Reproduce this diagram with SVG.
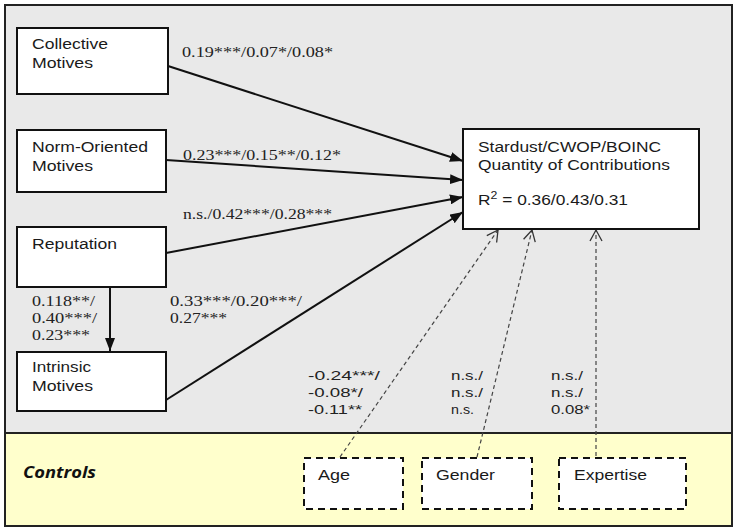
<svg xmlns="http://www.w3.org/2000/svg" width="740" height="532" viewBox="0 0 740 532">
<defs>
<style>
.node{fill:#fff;stroke:#111;stroke-width:2}
.ctl{fill:#fff;stroke:#111;stroke-width:2;stroke-dasharray:7 5}
.t{font-family:"Liberation Sans",Arial,sans-serif;font-size:15.5px;fill:#1a1a1a}
.s{font-family:"Liberation Serif","Times New Roman",serif;font-size:14.5px;fill:#222}
.c{font-family:"Liberation Sans",Arial,sans-serif;font-size:13.5px;fill:#222}
.e{stroke:#111;stroke-width:2;fill:none;marker-end:url(#ah)}
.d{stroke:#444;stroke-width:1.2;fill:none;stroke-dasharray:4 3;marker-end:url(#oh)}
</style>
<marker id="ah" markerUnits="userSpaceOnUse" markerWidth="13" markerHeight="10" refX="13" refY="5" orient="auto">
<path d="M0,0 L13,5 L0,10 z" fill="#111"/>
</marker>
<marker id="oh" markerUnits="userSpaceOnUse" markerWidth="14" markerHeight="14" refX="12" refY="7" orient="auto">
<path d="M1,1 L12,7 L1,13" fill="none" stroke="#333" stroke-width="1.3"/>
</marker>
</defs>
<g id="background">
<rect x="5" y="5" width="727" height="428" fill="#e9e9e9" stroke="#222" stroke-width="2"/>
<rect x="5" y="433" width="727" height="93" fill="#ffffcc" stroke="#222" stroke-width="2"/>
<text x="23" y="478" font-family="'Open Sans','Liberation Sans',sans-serif" font-size="16" font-weight="bold" font-style="italic" fill="#111" textLength="73" lengthAdjust="spacingAndGlyphs">Controls</text>
</g>
<g id="connectors">
<line class="e" x1="168" y1="66" x2="463" y2="161"/>
<line class="e" x1="166" y1="160" x2="463" y2="180"/>
<line class="e" x1="166" y1="253" x2="463" y2="197"/>
<line class="e" x1="166" y1="400" x2="463" y2="212"/>
<line class="e" x1="110" y1="287" x2="110" y2="351"/>
<line class="d" x1="340" y1="457" x2="498" y2="230"/>
<line class="d" x1="477" y1="457" x2="532" y2="230"/>
<line class="d" x1="596" y1="456" x2="596" y2="230"/>
<text class="s" x="182" y="57" textLength="151" lengthAdjust="spacingAndGlyphs">0.19***/0.07*/0.08*</text>
<text class="s" x="183" y="160" textLength="158" lengthAdjust="spacingAndGlyphs">0.23***/0.15**/0.12*</text>
<text class="s" x="183" y="219" textLength="149" lengthAdjust="spacingAndGlyphs">n.s./0.42***/0.28***</text>
<text class="s" x="32" y="306" textLength="63" lengthAdjust="spacingAndGlyphs">0.118**/</text>
<text class="s" x="32" y="323" textLength="65" lengthAdjust="spacingAndGlyphs">0.40***/</text>
<text class="s" x="32" y="340" textLength="58" lengthAdjust="spacingAndGlyphs">0.23***</text>
<text class="s" x="170" y="306" textLength="132" lengthAdjust="spacingAndGlyphs">0.33***/0.20***/</text>
<text class="s" x="170" y="323" textLength="57" lengthAdjust="spacingAndGlyphs">0.27***</text>
<text class="c" x="308" y="380" textLength="72" lengthAdjust="spacingAndGlyphs">-0.24***/</text>
<text class="c" x="308" y="397" textLength="55" lengthAdjust="spacingAndGlyphs">-0.08*/</text>
<text class="c" x="308" y="414" textLength="54" lengthAdjust="spacingAndGlyphs">-0.11**</text>
<text class="c" x="451" y="380" textLength="32" lengthAdjust="spacingAndGlyphs">n.s./</text>
<text class="c" x="451" y="397" textLength="32" lengthAdjust="spacingAndGlyphs">n.s./</text>
<text class="c" x="451" y="414" textLength="23" lengthAdjust="spacingAndGlyphs">n.s.</text>
<text class="c" x="551" y="380" textLength="32" lengthAdjust="spacingAndGlyphs">n.s./</text>
<text class="c" x="551" y="397" textLength="32" lengthAdjust="spacingAndGlyphs">n.s./</text>
<text class="c" x="551" y="414" textLength="39" lengthAdjust="spacingAndGlyphs">0.08*</text>
</g>
<g id="collective">
<rect class="node" x="17" y="28" width="151" height="66"/>
<text class="t" x="32" y="49" textLength="76" lengthAdjust="spacingAndGlyphs">Collective</text>
<text class="t" x="32" y="68" textLength="61" lengthAdjust="spacingAndGlyphs">Motives</text>
</g>
<g id="norm">
<rect class="node" x="17" y="130" width="149" height="62"/>
<text class="t" x="32" y="152" textLength="116" lengthAdjust="spacingAndGlyphs">Norm-Oriented</text>
<text class="t" x="32" y="171" textLength="61" lengthAdjust="spacingAndGlyphs">Motives</text>
</g>
<g id="reputation">
<rect class="node" x="17" y="227" width="149" height="60"/>
<text class="t" x="32" y="249" textLength="85" lengthAdjust="spacingAndGlyphs">Reputation</text>
</g>
<g id="intrinsic">
<rect class="node" x="17" y="352" width="149" height="59"/>
<text class="t" x="32" y="372" textLength="59" lengthAdjust="spacingAndGlyphs">Intrinsic</text>
<text class="t" x="32" y="391" textLength="61" lengthAdjust="spacingAndGlyphs">Motives</text>
</g>
<g id="outcome">
<rect class="node" x="463" y="129" width="236" height="100"/>
<text class="t" x="478" y="152" textLength="183" lengthAdjust="spacingAndGlyphs">Stardust/CWOP/BOINC</text>
<text class="t" x="478" y="170" textLength="192" lengthAdjust="spacingAndGlyphs">Quantity of Contributions</text>
<text class="t" x="478" y="205" textLength="150" lengthAdjust="spacingAndGlyphs">R<tspan font-size="11" dy="-6">2</tspan><tspan dy="6"> = 0.36/0.43/0.31</tspan></text>
</g>
<g id="age">
<rect class="ctl" x="304" y="458" width="99" height="51"/>
<text class="t" x="318" y="480" textLength="32" lengthAdjust="spacingAndGlyphs">Age</text>
</g>
<g id="gender">
<rect class="ctl" x="422" y="458" width="110" height="51"/>
<text class="t" x="436" y="480" textLength="59" lengthAdjust="spacingAndGlyphs">Gender</text>
</g>
<g id="expertise">
<rect class="ctl" x="559" y="458" width="127" height="51"/>
<text class="t" x="574" y="480" textLength="73" lengthAdjust="spacingAndGlyphs">Expertise</text>
</g>
</svg>
